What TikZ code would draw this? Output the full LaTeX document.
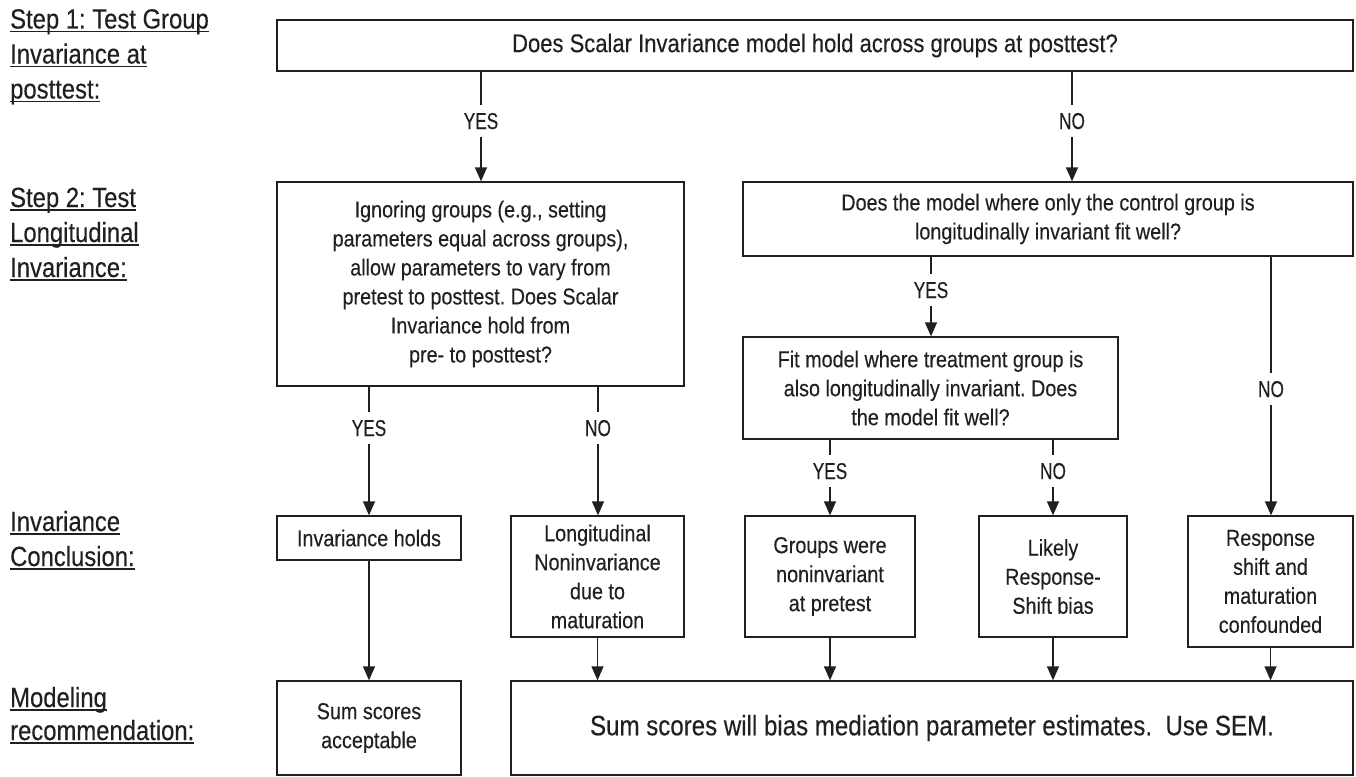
\documentclass[tikz,border=0pt]{standalone}
\usepackage{fontspec}
\setmainfont[FakeStretch=0.86,FakeBold=0.3]{Liberation Sans}
\newfontfamily\capsfont[FakeStretch=0.75,FakeBold=0.3]{Liberation Sans}
\usetikzlibrary{arrows.meta}
\definecolor{ink}{RGB}{35,31,32}
\newcommand\myul[1]{\setbox0\hbox{#1}\rlap{\rule[-3.6pt]{\wd0}{1.3pt}}\box0}
\AtBeginDocument{\frenchspacing}
\begin{document}
\begin{tikzpicture}[x=1pt,y=-1pt,
  every node/.style={text=ink},
  box/.style={draw=ink, line width=1.3pt, align=center, inner sep=0pt, font=\fontsize{23}{29}\selectfont},
  lbl/.style={inner sep=0pt, minimum height=32pt, text depth=0pt, font=\capsfont\fontsize{23}{25}\selectfont},
  side/.style={anchor=base west, inner sep=0pt, font=\fontsize{27.7}{35}\selectfont},
  conn/.style={draw=ink, line width=1.3pt},
  arr/.style={conn, -{Triangle[width=12pt,length=14pt]}}]
\useasboundingbox (0,0) rectangle (1356,776);

% side labels
\node[side] (s1a) at (10,28.5) {\myul{Step 1: Test Group}};
\node[side] (s1b) at (10,63.5) {\myul{Invariance at}};
\node[side] (s1c) at (10,98.5) {\myul{posttest:}};
\node[side] (s2a) at (10,207) {\myul{Step 2: Test}};
\node[side] (s2b) at (10,242) {\myul{Longitudinal}};
\node[side] (s2c) at (10,277) {\myul{Invariance:}};
\node[side] (s3a) at (10,531) {\myul{Invariance}};
\node[side] (s3b) at (10,566) {\myul{Conclusion:}};
\node[side] (s4a) at (10,707) {\myul{Modeling}};
\node[side] (s4b) at (10,740) {\myul{recommendation:}};

% boxes
\node[box, minimum width=1076pt, minimum height=51pt, font=\fontsize{25.6}{29}\selectfont] (top) at (815,45.5)
  {Does Scalar Invariance model hold across groups at posttest?};
\node[box, minimum width=407pt, minimum height=204pt] (A) at (480.5,284)
  {Ignoring groups (e.g., setting\\ parameters equal across groups),\\ allow parameters to vary from\\ pretest to posttest. Does Scalar\\ Invariance hold from\\ pre- to posttest?};
\node[box, minimum width=610pt, minimum height=74pt] (B) at (1048,219)
  {Does the model where only the control group is\\ longitudinally invariant fit well?};
\node[box, minimum width=375pt, minimum height=102pt] (C) at (930.5,388)
  {Fit model where treatment group is\\ also longitudinally invariant. Does\\ the model fit well?};
\node[box, minimum width=184pt, minimum height=44pt] (inv) at (369,538) {Invariance holds};
\node[box, minimum width=173pt, minimum height=121pt] (lon) at (597.5,576.5)
  {Longitudinal\\ Noninvariance\\ due to\\ maturation};
\node[box, minimum width=170pt, minimum height=121pt] (grp) at (830,576.5)
  {Groups were\\ noninvariant\\ at pretest};
\node[box, minimum width=148pt, minimum height=121pt] (lik) at (1053,576.5)
  {Likely\\ Response-\\ Shift bias};
\node[box, minimum width=165pt, minimum height=131pt] (rsp) at (1270.5,581.5)
  {Response\\ shift and\\ maturation\\ confounded};
\node[box, minimum width=184pt, minimum height=94pt] (sum) at (369,728)
  {Sum scores\\ acceptable};
\node[box, minimum width=842pt, minimum height=94pt, font=\fontsize{28}{30}\selectfont] (big) at (932,728)
  {Sum scores will bias mediation parameter estimates.\ \ Use SEM.};

% branch labels
\node[lbl] (y1) at (481,121) {YES};
\node[lbl] (n1) at (1072,121) {NO};
\node[lbl] (y2) at (369,428) {YES};
\node[lbl] (n2) at (598,428) {NO};
\node[lbl] (y3) at (931,290) {YES};
\node[lbl] (n3) at (1271,389) {NO};
\node[lbl] (y4) at (830,471) {YES};
\node[lbl] (n4) at (1053,471) {NO};

% connectors
\draw[conn] (top.south -| y1) -- (y1.north);
\draw[arr] (y1.south) -- (A.north -| y1);
\draw[conn] (top.south -| n1) -- (n1.north);
\draw[arr] (n1.south) -- (B.north -| n1);
\draw[conn] (A.south -| y2) -- (y2.north);
\draw[arr] (y2.south) -- (inv.north -| y2);
\draw[conn] (A.south -| n2) -- (n2.north);
\draw[arr] (n2.south) -- (lon.north -| n2);
\draw[conn] (B.south -| y3) -- (y3.north);
\draw[arr] (y3.south) -- (C.north -| y3);
\draw[conn] (B.south -| n3) -- (n3.north);
\draw[arr] (n3.south) -- (rsp.north -| n3);
\draw[conn] (C.south -| y4) -- (y4.north);
\draw[arr] (y4.south) -- (grp.north -| y4);
\draw[conn] (C.south -| n4) -- (n4.north);
\draw[arr] (n4.south) -- (lik.north -| n4);
\draw[arr] (inv.south) -- (sum.north);
\draw[arr] (lon.south) -- (lon.south |- big.north);
\draw[arr] (grp.south) -- (grp.south |- big.north);
\draw[arr] (lik.south) -- (lik.south |- big.north);
\draw[arr] (rsp.south) -- (rsp.south |- big.north);
\end{tikzpicture}
\end{document}
